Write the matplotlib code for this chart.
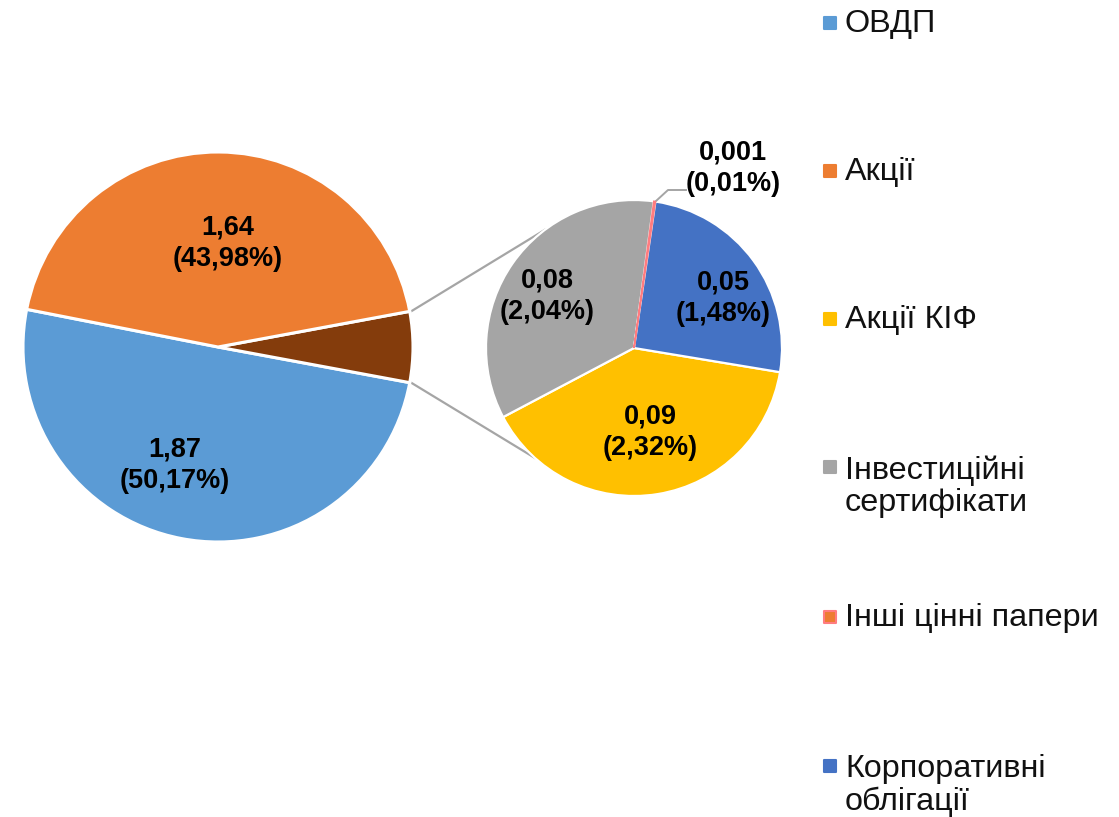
import numpy as np
import matplotlib
matplotlib.use('Agg')
import matplotlib.pyplot as plt

plt.rcParams['font.family'] = ['Liberation Sans', 'DejaVu Sans']

# main pie
main_labels = ['ОВДП', 'Акції']
main_values = [1.87, 1.64]
main_shares = [50.17, 43.98]

# secondary pie (the "other" slice broken out)
sub_labels = ['Акції КІФ', 'Інвестиційні\nсертифікати', 'Інші цінні папери',
              'Корпоративні\nоблігації']
sub_values = [0.09, 0.08, 0.001, 0.05]
sub_shares = [2.32, 2.04, 0.01, 1.48]

main_colors = ['#5B9BD5', '#ED7D31']
other_color = '#843C0C'
sub_colors = ['#FFC000', '#A5A5A5', '#FF7C80', '#4472C4']

W, H = 1119, 817


def fmt(v, p):
    return '{:g}\n({:.2f}%)'.format(v, p).replace('.', ',')


def Y(y):
    # image row -> data y
    return H - y


fig = plt.figure(figsize=(W / 100, H / 100), dpi=100)
ax = fig.add_axes([0, 0, 1, 1])

other_share = sum(sub_shares)
c1, r1 = (218, Y(347)), 195
c2, r2 = (634, Y(348)), 148

# left pie: ОВДП, other, Акції counter-clockwise, other centred on 0 deg
start1 = 360 * (other_share / 2 + main_shares[1]) / 100
ax.pie([main_shares[0], other_share, main_shares[1]],
       colors=[main_colors[0], other_color, main_colors[1]],
       center=c1, radius=r1, startangle=start1, counterclock=True,
       wedgeprops=dict(edgecolor='white', linewidth=2.2), frame=True)

wedges, _ = ax.pie(sub_shares, colors=sub_colors, center=c2, radius=r2,
                   startangle=-9.4, counterclock=False,
                   wedgeprops=dict(edgecolor='white', linewidth=1.6), frame=True)
wedges[2].set_edgecolor(sub_colors[2])
wedges[2].set_linewidth(1.2)
wedges[2].set_zorder(3)

ax.set_xlim(0, W)
ax.set_ylim(0, H)
ax.set_aspect('equal')
ax.axis('off')

# connector lines between the pies
half = np.deg2rad(360 * other_share / 100 / 2)
for a1, a2 in [(half, np.deg2rad(127)), (-half, np.deg2rad(228))]:
    p1 = (c1[0] + (r1 + 2) * np.cos(a1), c1[1] + (r1 + 2) * np.sin(a1))
    p2 = (c2[0] + r2 * np.cos(a2), c2[1] + r2 * np.sin(a2))
    ax.plot([p1[0], p2[0]], [p1[1], p2[1]], color='#A5A5A5', lw=1.6, zorder=0)

lab_kw = dict(ha='center', va='center', fontsize=19.5, fontweight='bold',
              linespacing=1.3, color='black', zorder=5)
main_pos = [(175, 465), (228, 243)]
for (x, y), v, p in zip(main_pos, main_values, main_shares):
    ax.text(x, Y(y), fmt(v, p), **lab_kw)

sub_pos = [(650, 432), (547, 296), (733, 168), (723, 298)]
for (x, y), v, p in zip(sub_pos, sub_values, sub_shares):
    ax.text(x, Y(y), fmt(v, p), **lab_kw)

# leader line for the tiny slice
ax.plot([656, 668, 686], [Y(201), Y(190), Y(190)], color='#A5A5A5', lw=1.4)

# legend, drawn by hand to keep Excel-like spacing
leg_labels = main_labels + sub_labels
leg_face = main_colors + ['#FFC000', '#A5A5A5', '#ED7D31', '#4472C4']
leg_edge = main_colors + ['#FFC000', '#A5A5A5', '#FF7C80', '#4472C4']
leg_base = [32, 180, 328, 476, 626, 775]
for lab, fc, ec, b in zip(leg_labels, leg_face, leg_edge, leg_base):
    ax.scatter([830], [Y(b - 9)], marker='s', s=75, color=fc,
               edgecolors=ec, linewidths=1.5)
    n = lab.count('\n')
    # matplotlib puts the baseline of the last line on y
    ax.text(845, Y(b + 35 * n), lab, ha='left', va='baseline', fontsize=23.3,
            linespacing=1.1, color='#111111')

fig.savefig('out.png', dpi=100)
